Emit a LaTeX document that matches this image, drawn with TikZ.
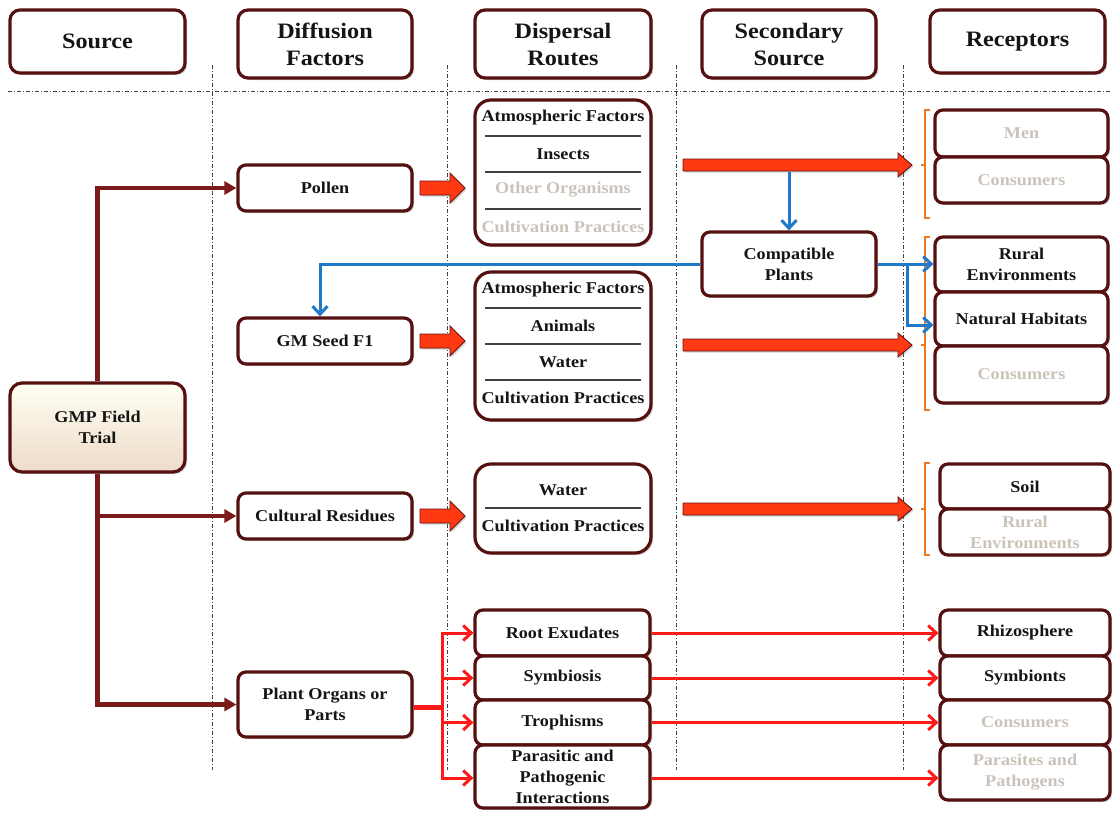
\documentclass[tikz,border=0pt]{standalone}
\usepackage{fontspec}
\setmainfont{Liberation Serif}[FakeStretch=1.1]
\usetikzlibrary{shadows,arrows.meta,calc}
\definecolor{boxc}{HTML}{561010}
\definecolor{darktxt}{HTML}{151515}
\definecolor{graytxt}{HTML}{CBC3BA}
\definecolor{maroonc}{HTML}{7A1A1A}
\definecolor{blockred}{HTML}{FF3A12}
\definecolor{blockedge}{HTML}{6A1010}
\definecolor{linered}{HTML}{FF1A1A}
\definecolor{blueln}{HTML}{1F78C8}
\definecolor{bracketc}{HTML}{F07820}
\definecolor{sepc}{HTML}{404040}
\newcommand{\blkarr}[6]{\filldraw[blkarrow] (#1,#3-#4) -- (#2-#6,#3-#4) -- (#2-#6,#3-#5) -- (#2,#3) -- (#2-#6,#3+#5) -- (#2-#6,#3+#4) -- (#1,#3+#4) -- cycle;}
\begin{document}
\begin{tikzpicture}[x=1pt,y=-1pt,
  rbox/.style={draw=boxc, line width=3.2pt, rounded corners=8pt, fill=white,
    align=center, inner sep=2pt, text=darktxt,
    font=\fontsize{16.5}{21}\selectfont\bfseries,
    drop shadow={opacity=0.35, shadow xshift=2pt, shadow yshift=-2pt}},
  hbox/.style={rbox, rounded corners=10pt, font=\fontsize{22}{27}\selectfont\bfseries},
  gbox/.style={rbox, text=graytxt},
  dt/.style={text=darktxt, font=\fontsize{16.5}{21}\selectfont\bfseries, inner sep=0pt},
  gt/.style={dt, text=graytxt},
  sep/.style={draw=sepc, line width=1.2pt},
  divline/.style={draw=black!75, line width=0.8pt, dash pattern=on 4pt off 2pt on 1pt off 2pt},
  blkarrow/.style={fill=blockred, draw=blockedge, line width=0.9pt,
    drop shadow={opacity=0.35, shadow xshift=1.5pt, shadow yshift=-1.5pt}},
  mline/.style={draw=maroonc, line width=4.5pt, -{Triangle[length=12pt,width=13pt]}},
  rline/.style={draw=linered, line width=3pt, -{Straight Barb[length=8pt,width=15pt]}},
  bline/.style={draw=blueln, line width=3pt, -{Straight Barb[length=8pt,width=15pt]}},
  bracket/.style={draw=bracketc, line width=2.6pt}
]
\fill[white] (0,0) rectangle (1112,812);
\useasboundingbox (0,0) rectangle (1112,812);

% divider lines
\draw[divline] (8,91) -- (1112,91);
\foreach \xx in {212,447,676,903} \draw[divline] (\xx,65) -- (\xx,770);

% header
\node[hbox, minimum width=175pt, minimum height=63pt] (hsrc) at (97.5,41.5) {Source};
\node[hbox, minimum width=174pt, minimum height=68pt] (hdif) at (325,44) {Diffusion\\Factors};
\node[hbox, minimum width=176pt, minimum height=68pt] (hdis) at (563,44) {Dispersal\\Routes};
\node[hbox, minimum width=174pt, minimum height=68pt] (hsec) at (789,44) {Secondary\\Source};
\node[hbox, minimum width=175pt, minimum height=63pt] (hrec) at (1017.5,41.5) {Receptors};

% source
\node[rbox, minimum width=175pt, minimum height=89pt, top color=white!40!yellow!8, bottom color=brown!28!white, rounded corners=12pt] (gmp) at (97.5,427.5) {GMP Field\\Trial};

% diffusion factors
\node[rbox, minimum width=174pt, minimum height=46pt] (pollen) at (325,188) {Pollen};
\node[rbox, minimum width=174pt, minimum height=46pt] (gmseed) at (325,341) {GM Seed F1};
\node[rbox, minimum width=174pt, minimum height=46pt] (cult) at (325,516) {Cultural Residues};
\node[rbox, minimum width=174pt, minimum height=65pt] (plant) at (325,704.5) {Plant Organs or\\Parts};

% dispersal route boxes
\node[rbox, rounded corners=16pt, minimum width=176pt, minimum height=145pt] (dr1) at (563,172.5) {};
\node[dt] (dr1a) at (563,118) {Atmospheric Factors};
\node[dt] (dr1b) at (563,154) {Insects};
\node[gt] (dr1c) at (563,190) {Other Organisms};
\node[gt] (dr1d) at (563,227) {Cultivation Practices};
\draw[sep] (485,136) -- (641,136);
\draw[sep] (485,172) -- (641,172);
\draw[sep] (485,209) -- (641,209);

\node[rbox, rounded corners=16pt, minimum width=176pt, minimum height=148pt] (dr2) at (563,346) {};
\node[dt] (dr2a) at (563,290) {Atmospheric Factors};
\node[dt] (dr2b) at (563,326) {Animals};
\node[dt] (dr2c) at (563,362) {Water};
\node[dt] (dr2d) at (563,398) {Cultivation Practices};
\draw[sep] (485,308) -- (641,308);
\draw[sep] (485,344) -- (641,344);
\draw[sep] (485,380) -- (641,380);

\node[rbox, rounded corners=16pt, minimum width=176pt, minimum height=89pt] (dr3) at (563,508.5) {};
\node[dt] (dr3a) at (563,490) {Water};
\node[dt] (dr3b) at (563,526) {Cultivation Practices};
\draw[sep] (485,508) -- (641,508);

\node[rbox, minimum width=175pt, minimum height=46pt] (root) at (562.5,633) {Root Exudates};
\node[rbox, minimum width=175pt, minimum height=44pt] (symb) at (562.5,678) {Symbiosis};
\node[rbox, minimum width=175pt, minimum height=45pt] (troph) at (562.5,722.5) {Trophisms};
\node[rbox, minimum width=175pt, minimum height=63pt] (para) at (562.5,776.5) {Parasitic and\\Pathogenic\\Interactions};

% secondary source
\node[rbox, minimum width=174pt, minimum height=64pt] (compat) at (789,264) {Compatible\\Plants};

% receptors
\node[gbox, minimum width=173pt, minimum height=47pt] (men) at (1021.5,133.5) {Men};
\node[gbox, minimum width=173pt, minimum height=46pt] (cons1) at (1021.5,180) {Consumers};
\node[rbox, minimum width=173pt, minimum height=55pt] (rural) at (1021.5,264.5) {Rural\\Environments};
\node[rbox, minimum width=173pt, minimum height=54pt] (natural) at (1021.5,319) {Natural Habitats};
\node[gbox, minimum width=173pt, minimum height=57pt] (cons2) at (1021.5,374.5) {Consumers};
\node[rbox, minimum width=170pt, minimum height=45pt] (soil) at (1025,486.5) {Soil};
\node[gbox, minimum width=170pt, minimum height=46pt] (rural2) at (1025,532) {Rural\\Environments};
\node[rbox, minimum width=170pt, minimum height=46pt] (rhizo) at (1025,633) {Rhizosphere};
\node[rbox, minimum width=170pt, minimum height=44pt] (symbt) at (1025,678) {Symbionts};
\node[gbox, minimum width=170pt, minimum height=45pt] (cons3) at (1025,722.5) {Consumers};
\node[gbox, minimum width=170pt, minimum height=55pt] (paras) at (1025,772.5) {Parasites and\\Pathogens};

% brackets
\draw[bracket] (930,110) -- (925,110) -- (925,218) -- (930,218);
\draw[bracket] (925,165) -- (921,165);
\draw[bracket] (930,237) -- (925,237) -- (925,410) -- (930,410);
\draw[bracket] (925,345) -- (921,345);
\draw[bracket] (930,463) -- (925,463) -- (925,555) -- (930,555);
\draw[bracket] (925,509) -- (921,509);

% maroon connectors from the source
\draw[mline] (gmp.north) |- (pollen.west);
\draw[mline] (gmp.south) |- (cult.west);
\draw[mline] (gmp.south) |- (plant.west);

% block arrows
\blkarr{420}{465}{188}{7}{15}{15}
\blkarr{420}{465}{341}{7}{15}{15}
\blkarr{420}{465}{516}{7}{15}{15}
\blkarr{683}{912}{165}{6}{12}{14}
\blkarr{683}{912}{345}{6}{12}{14}
\blkarr{683}{912}{509}{6}{12}{14}

% blue connectors
\coordinate (bstart) at (789,172);
\coordinate (bsplit) at (907,264);
\draw[bline] (bstart) -- (compat.north);
\draw[bline] (compat.west) -| ([xshift=-5pt]gmseed.north);
\draw[bline] (compat.east) -- (compat.east -| rural.west);
\draw[bline] (bsplit) |- ([yshift=-6pt]natural.west);

% red connectors for plant organs
\coordinate (split) at (442,707);
\draw[draw=linered, line width=5pt] (plant.east |- split) -- (split);
\draw[rline] (split) |- (root.west);
\draw[rline] (split) |- (symb.west);
\draw[rline] (split) |- (troph.west);
\draw[rline] (split) |- ([yshift=-1.5pt]para.west);
\draw[rline] (root.east) -- (rhizo.west);
\draw[rline] (symb.east) -- (symbt.west);
\draw[rline] (troph.east) -- (cons3.west);
\draw[rline] ([yshift=-1.5pt]para.east) -- ([yshift=-1.5pt]para.east -| paras.west);
\end{tikzpicture}
\end{document}
